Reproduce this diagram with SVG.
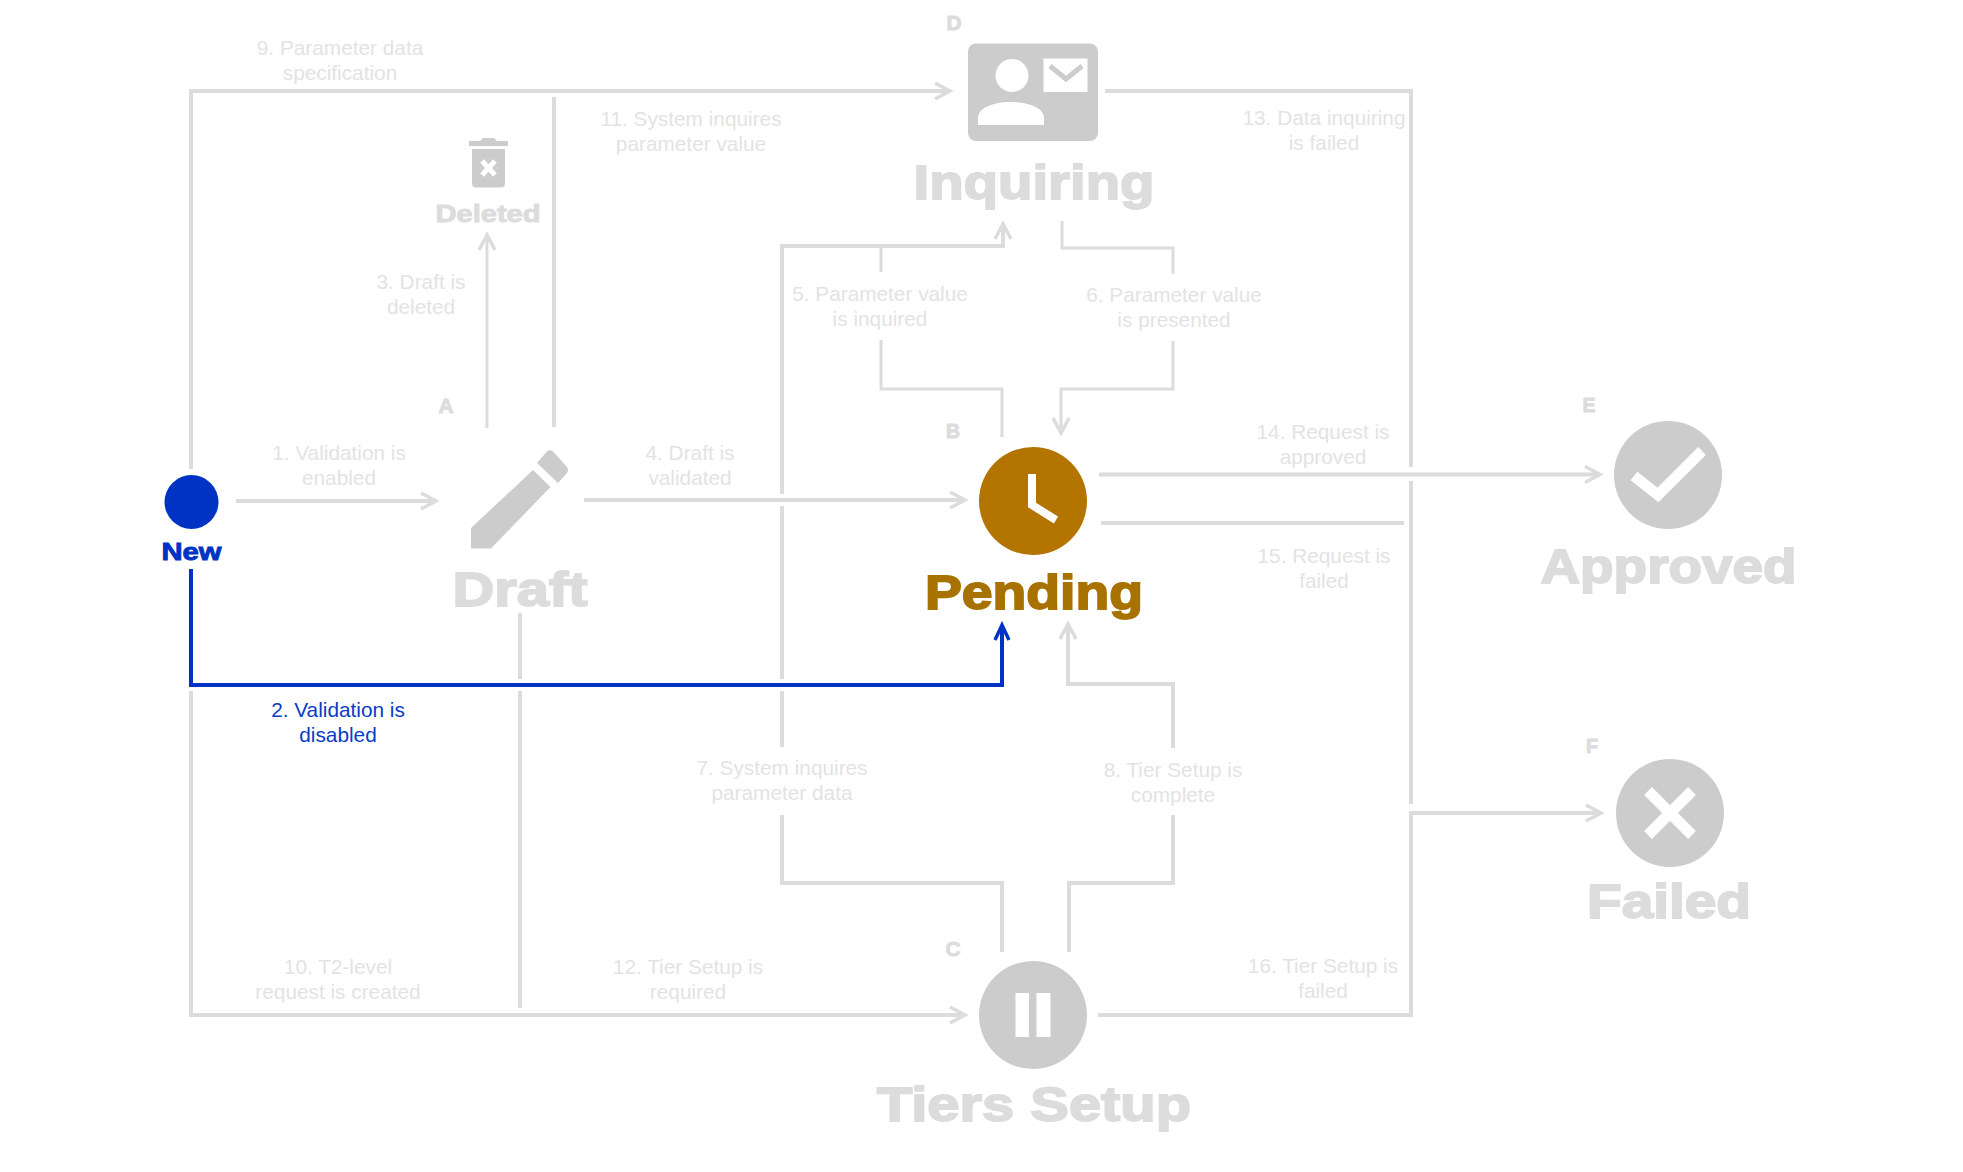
<svg xmlns="http://www.w3.org/2000/svg" width="1963" height="1172" viewBox="0 0 1963 1172">
<style>
.bg{fill:#ffffff}
.c{fill:none;stroke:#dcdcdc;stroke-width:4;stroke-linejoin:miter}
.b{fill:none;stroke:#0033c4;stroke-width:4;stroke-linejoin:miter}
.l{font-family:"Liberation Sans",Arial,sans-serif;font-size:20.8px;fill:#e3e3e3;text-anchor:middle}
.lb{fill:#0a3cc6}
.t{font-family:"Liberation Sans",Arial,sans-serif;font-weight:700;fill:#dcdcdc;stroke:#dcdcdc;stroke-width:1.800;text-anchor:middle}
.s{stroke-width:0.900}
.i{fill:#cccccc}
.w{fill:none;stroke:#ffffff}
</style>
<defs>
<marker id="a" markerUnits="userSpaceOnUse" viewBox="-20 -12 24 24" refX="0" refY="0" markerWidth="24" markerHeight="24" orient="auto"><path d="M-15,-8 L0,0 L-15,8" fill="none" stroke="#dcdcdc" stroke-width="3.500"/></marker>
<marker id="ab" markerUnits="userSpaceOnUse" viewBox="-20 -12 24 24" refX="0" refY="0" markerWidth="24" markerHeight="24" orient="auto"><path d="M-15,-7 L0,0 L-15,7" fill="none" stroke="#0033c4" stroke-width="3.500"/></marker>
</defs>
<rect class="bg" width="1963" height="1172"/>
<g id="connectors">
<path class="c" marker-end="url(#a)" d="M191,469V91H950"/>
<path class="c" d="M554,97V427"/>
<path class="c" style="stroke-width:3" marker-end="url(#a)" d="M487,428V235"/>
<path class="c" marker-end="url(#a)" d="M236,501H436"/>
<path class="c" marker-end="url(#a)" d="M584,500H965"/>
<path class="c" marker-end="url(#a)" d="M1002,952V883H782V815M782,747V691M782,679V506M782,494V246H1003V224"/>
<path class="c" style="stroke-width:3" d="M881,247V272M881,340V389H1002V437"/>
<path class="c" style="stroke-width:3" marker-end="url(#a)" d="M1062,221V248H1173V274M1173,341V389H1061V433"/>
<path class="c" d="M1105,91H1411V467M1411,481V804"/>
<path class="c" marker-end="url(#a)" d="M1099,474.500H1600"/>
<path class="c" d="M1101,523H1404"/>
<path class="c" marker-end="url(#a)" d="M1098,1015H1411V813H1601"/>
<path class="c" marker-end="url(#a)" d="M1069,952V883H1173V815M1173,748V684H1068V624"/>
<path class="c" marker-end="url(#a)" d="M191,691V1015H965"/>
<path class="c" d="M520,613V679M520,691V1008"/>
<path class="b" marker-end="url(#ab)" d="M191,569V685H1002V625"/>
</g>
<g id="node-new"><circle cx="191.500" cy="502" r="27" fill="#0033c4"/><text class="t s" x="191.500" y="560" font-size="24" textLength="60" lengthAdjust="spacingAndGlyphs" style="fill:#0033c4;stroke:#0033c4">New</text></g>
<g id="node-draft">
<path class="i" d="M471,528L533,470L550.500,487L491,548.500H471Z"/>
<path class="i" d="M537,463L547,451.500Q550,449 553,451.500L567,467Q569,470 567,473L558,483Z"/>
<text class="t" x="520" y="606" font-size="48" textLength="135" lengthAdjust="spacingAndGlyphs">Draft</text>
<text class="t s" x="446" y="413" font-size="20" textLength="15" lengthAdjust="spacingAndGlyphs">A</text>
</g>
<g id="node-deleted">
<path class="i" d="M469,141H480L483,138H494L497,141H508V146H469Z"/>
<path class="i" d="M472,149H505V183Q505,187.500 501,187.500H476Q472,187.500 472,183Z"/>
<path class="w" stroke-width="5" d="M482,161L495,175M495,161L482,175"/>
<text class="t s" x="488" y="222" font-size="24" textLength="105" lengthAdjust="spacingAndGlyphs">Deleted</text>
</g>
<g id="node-inquiring">
<rect class="i" x="968" y="43.500" width="130" height="97.500" rx="8"/>
<circle cx="1012" cy="75.500" r="16.500" fill="#ffffff"/>
<path d="M978,125V118C978,108 993,102 1011,102C1029,102 1044,108 1044,118V125Z" fill="#ffffff"/>
<rect x="1043.500" y="58.500" width="44" height="33.500" fill="#ffffff"/>
<path style="fill:none;stroke:#cccccc" stroke-width="5" d="M1050,66L1066,79L1082,66"/>
<text class="t" x="1034" y="199" font-size="49" textLength="241" lengthAdjust="spacingAndGlyphs">Inquiring</text>
<text class="t s" x="954" y="30" font-size="20" textLength="15" lengthAdjust="spacingAndGlyphs">D</text>
</g>
<g id="node-pending">
<circle cx="1033" cy="501" r="54" fill="#b37400"/>
<path class="w" stroke-width="8" d="M1032,474V505L1056,520"/>
<text class="t" x="1034" y="609" font-size="48" textLength="218" lengthAdjust="spacingAndGlyphs" style="fill:#a87200;stroke:#a87200">Pending</text>
<text class="t s" x="953" y="438" font-size="20" textLength="14" lengthAdjust="spacingAndGlyphs">B</text>
</g>
<g id="node-tiers">
<circle class="i" cx="1033" cy="1015" r="54"/>
<rect x="1015.500" y="993" width="13.500" height="44" fill="#ffffff"/>
<rect x="1036.500" y="993" width="14" height="44" fill="#ffffff"/>
<text class="t" x="1034" y="1121" font-size="49" textLength="314" lengthAdjust="spacingAndGlyphs">Tiers Setup</text>
<text class="t s" x="953" y="956" font-size="20" textLength="15" lengthAdjust="spacingAndGlyphs">C</text>
</g>
<g id="node-approved">
<circle class="i" cx="1668" cy="475" r="54"/>
<path class="w" stroke-width="11" d="M1634,476L1658,495L1702,451"/>
<text class="t" x="1668.500" y="583" font-size="48" textLength="256" lengthAdjust="spacingAndGlyphs">Approved</text>
<text class="t s" x="1589" y="412" font-size="20" textLength="13" lengthAdjust="spacingAndGlyphs">E</text>
</g>
<g id="node-failed">
<circle class="i" cx="1670" cy="813" r="54"/>
<path class="w" stroke-width="11" d="M1648,791L1692,835M1692,791L1648,835"/>
<text class="t" x="1669" y="918" font-size="48" textLength="164" lengthAdjust="spacingAndGlyphs">Failed</text>
<text class="t s" x="1592" y="753" font-size="20" textLength="12" lengthAdjust="spacingAndGlyphs">F</text>
</g>
<g id="labels">
<text class="l" x="340" y="55">9. Parameter data</text><text class="l" x="340" y="80">specification</text>
<text class="l" x="691" y="126">11. System inquires</text><text class="l" x="691" y="151">parameter value</text>
<text class="l" x="421" y="289">3. Draft is</text><text class="l" x="421" y="314">deleted</text>
<text class="l" x="339" y="460">1. Validation is</text><text class="l" x="339" y="485">enabled</text>
<text class="l" x="690" y="460">4. Draft is</text><text class="l" x="690" y="485">validated</text>
<text class="l" x="880" y="301">5. Parameter value</text><text class="l" x="880" y="326">is inquired</text>
<text class="l" x="1174" y="302">6. Parameter value</text><text class="l" x="1174" y="327">is presented</text>
<text class="l" x="1324" y="125">13. Data inquiring</text><text class="l" x="1324" y="150">is failed</text>
<text class="l" x="1323" y="439">14. Request is</text><text class="l" x="1323" y="464">approved</text>
<text class="l" x="1324" y="563">15. Request is</text><text class="l" x="1324" y="588">failed</text>
<text class="l lb" x="338" y="717">2. Validation is</text><text class="l lb" x="338" y="742">disabled</text>
<text class="l" x="782" y="775">7. System inquires</text><text class="l" x="782" y="800">parameter data</text>
<text class="l" x="338" y="974">10. T2-level</text><text class="l" x="338" y="999">request is created</text>
<text class="l" x="688" y="974">12. Tier Setup is</text><text class="l" x="688" y="999">required</text>
<text class="l" x="1173" y="777">8. Tier Setup is</text><text class="l" x="1173" y="802">complete</text>
<text class="l" x="1323" y="973">16. Tier Setup is</text><text class="l" x="1323" y="998">failed</text>
</g>
</svg>
